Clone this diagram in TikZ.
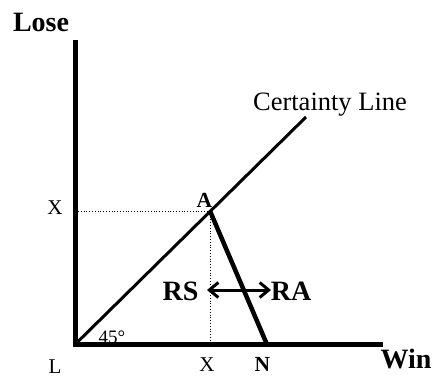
\documentclass[tikz,border=0pt]{standalone}
\usepackage{fontspec}
\setmainfont{Liberation Serif}
\usetikzlibrary{arrows.meta,positioning}

\begin{document}
\begin{tikzpicture}[x=1pt, y=-1pt,
      axis/.style = {line width=5pt, line join=miter},
      guide/.style = {dotted, line width=0.8pt},
      big/.style = {font=\fontsize{28}{30}\selectfont\bfseries, anchor=base},
      tag/.style = {font=\fontsize{21}{23}\selectfont, anchor=base},
      boldtag/.style = {font=\fontsize{21.5}{23}\selectfont\bfseries, anchor=base}]
      \useasboundingbox (0,0) rectangle (435,376);

      \coordinate (top) at (75,40);
      \coordinate (L0) at (75,344.5);
      \coordinate (end) at (383,344.5);
      \coordinate (A0) at (210,211);
      \coordinate (N0) at (267,344.5);
      \coordinate (C0) at (306,117);
      \coordinate (xl) at (78,211);
      \coordinate (xb) at (210,344.5);
      \coordinate (rs) at (207,290);
      \coordinate (ra) at (271,290);

      \node[big] (lose) at (41,31) {Lose};
      \node[big] (win) at (406,368) {Win};
      \node[tag] (l) at (55,373) {L};
      \node[tag] (xbot) at (207,371) {X};
      \node[tag] (xleft) at (55,214) {X};
      \node[boldtag] (n) at (262.5,371) {N};
      \node[boldtag] (a) at (204.5,207) {A};
      \node[tag, font=\fontsize{19}{21}\selectfont] (deg) at (112,343) {45°};
      \node[big, font=\fontsize{28}{30}\selectfont\bfseries] (rsl) at (180.5,300) {RS};
      \node[big, font=\fontsize{28}{30}\selectfont\bfseries] (ral) at (291,300) {RA};
      \node[tag, font=\fontsize{26.5}{28}\selectfont] (cert) at (330,110) {Certainty Line};

      \draw[guide] (xl) -- (A0);
      \draw[guide] (A0) -- (xb);
      \draw[line width=3pt] (L0) -- (C0);
      \draw[line width=4.5pt] (A0) -- (N0);
      \draw[line width=3pt, {Straight Barb[length=9pt,width=15pt]}-{Straight Barb[length=9pt,width=15pt]}] (rs) -- (ra);
      \draw[axis] (top) -- (L0) -- (end);
    \end{tikzpicture}
\end{document}
